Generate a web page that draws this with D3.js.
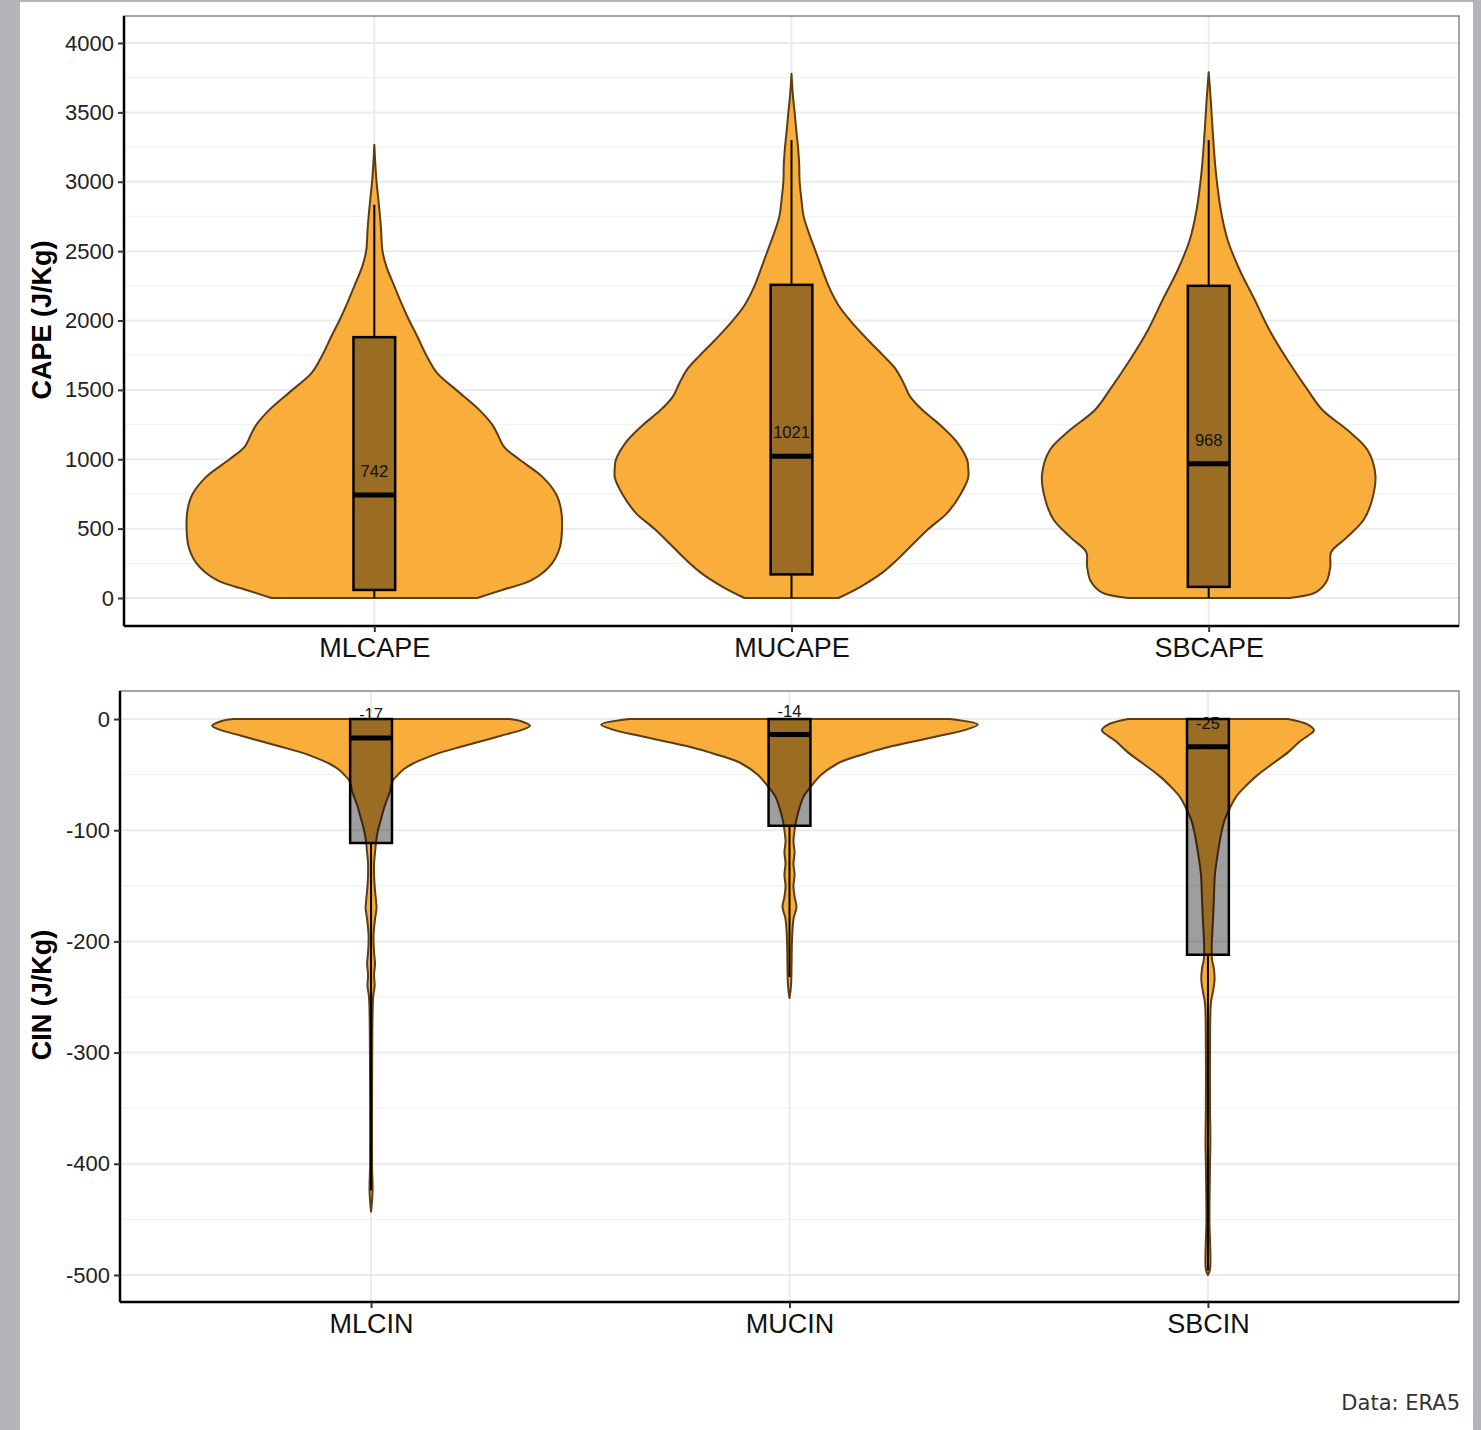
<!DOCTYPE html>
<html><head><meta charset="utf-8">
<script src="https://cdn.jsdelivr.net/npm/d3@7"></script>
<style>body{margin:0;background:#b3b5b8;} svg{display:block}</style>
</head><body><svg id="c" width="1481" height="1430"></svg>
<script>
// ---------------- DATA ----------------
const capeCats = ["MLCAPE", "MUCAPE", "SBCAPE"];
const capeMedian = [742, 1021, 968];
const capeQ1 = [58, 170, 80];
const capeQ3 = [1880, 2257, 2250];
const capeWhiskLo = [0, 0, 0];
const capeWhiskHi = [2834, 3301, 3300];
const capeMajorTicks = [0, 500, 1000, 1500, 2000, 2500, 3000, 3500, 4000];
const capeMinorTicks = [250, 750, 1250, 1750, 2250, 2750, 3250, 3750];
// violin density profiles: [value, relative density]
const densMLCAPE = [[0,0.548],[58,0.681],[130,0.840],[250,0.947],[370,0.989],[500,1.0],[635,0.995],[750,0.968],[875,0.894],[1000,0.771],[1090,0.691],[1188,0.654],[1250,0.628],[1356,0.559],[1500,0.436],[1620,0.335],[1750,0.277],[1885,0.229],[2000,0.186],[2125,0.144],[2250,0.106],[2390,0.064],[2505,0.043],[2654,0.036],[2755,0.030],[2894,0.020],[3000,0.012],[3135,0.005],[3267,0]];
const densMUCAPE = [[0,0.250],[81,0.367],[183,0.484],[284,0.569],[385,0.644],[497,0.729],[614,0.830],[745,0.899],[867,0.941],[943,0.941],[994,0.936],[1120,0.883],[1245,0.793],[1349,0.702],[1450,0.633],[1552,0.596],[1653,0.553],[1747,0.489],[1856,0.410],[1998,0.314],[2110,0.250],[2249,0.197],[2363,0.165],[2500,0.128],[2617,0.096],[2754,0.064],[2870,0.053],[3005,0.043],[3124,0.041],[3258,0.034],[3377,0.025],[3509,0.016],[3631,0.007],[3778,0]];
const densSBCAPE = [[0,0.430],[40,0.570],[120,0.628],[230,0.648],[330,0.652],[430,0.730],[562,0.825],[706,0.870],[886,0.888],[1066,0.846],[1210,0.739],[1355,0.606],[1500,0.527],[1715,0.420],[1930,0.324],[2150,0.245],[2364,0.165],[2580,0.101],[2800,0.064],[3085,0.037],[3373,0.021],[3589,0.011],[3790,0]];

const cinCats = ["MLCIN", "MUCIN", "SBCIN"];
const cinMedian = [-17, -14, -25];
const cinQ1 = [-111.5, -96, -212];
const cinQ3 = [0, 0, 0];
const cinWhiskLo = [-424, -232, -496];
const cinWhiskHi = [0, 0, 0];
const cinMajorTicks = [0, -100, -200, -300, -400, -500];
const cinMinorTicks = [-50, -150, -250, -350, -450];
const densMLCIN = [[0,0.733],[-2,0.797],[-6,0.844],[-10,0.797],[-15,0.690],[-20,0.584],[-25,0.478],[-30,0.372],[-35,0.292],[-40,0.223],[-45,0.175],[-50,0.143],[-55,0.117],[-60,0.106],[-65,0.101],[-70,0.090],[-80,0.069],[-90,0.053],[-100,0.037],[-110,0.027],[-120,0.021],[-130,0.016],[-140,0.016],[-150,0.019],[-165,0.027],[-170,0.029],[-180,0.021],[-195,0.013],[-210,0.016],[-220,0.021],[-230,0.016],[-240,0.019],[-250,0.011],[-300,0.006],[-350,0.005],[-400,0.005],[-425,0.008],[-443,0]];
const densMUCIN = [[0,0.850],[-5,1.0],[-10,0.929],[-15,0.797],[-20,0.664],[-25,0.531],[-30,0.425],[-35,0.329],[-40,0.255],[-50,0.170],[-60,0.117],[-70,0.074],[-80,0.053],[-90,0.037],[-100,0.027],[-110,0.021],[-120,0.027],[-130,0.021],[-140,0.027],[-150,0.021],[-160,0.027],[-169,0.037],[-180,0.021],[-200,0.013],[-220,0.011],[-240,0.008],[-251,0]];
const densSBCIN = [[0,0.425],[-5,0.531],[-10,0.563],[-15,0.531],[-20,0.489],[-30,0.425],[-40,0.345],[-50,0.266],[-60,0.202],[-70,0.149],[-80,0.117],[-90,0.090],[-100,0.074],[-120,0.053],[-140,0.037],[-160,0.032],[-180,0.027],[-200,0.021],[-215,0.021],[-225,0.032],[-235,0.035],[-245,0.027],[-255,0.016],[-300,0.011],[-350,0.011],[-380,0.013],[-400,0.011],[-450,0.008],[-495,0.011],[-500,0]];

// ---------------- DRAW ----------------
const svg = d3.select("#c");
svg.append("rect").attr("x", 20).attr("y", 2).attr("width", 1453).attr("height", 1428).attr("fill", "#fff");
const FONT = "Liberation Sans, Arial, sans-serif";

function panel(cfg) {
  const {L, R, T, B, domain, cats, major, minor, dens, med, q1, q3, wlo, whi, title, titleY} = cfg;
  const g = svg.append("g");
  const y = d3.scaleLinear().domain(domain).range([B, T]);
  const x = d3.scalePoint().domain(cats).range([L, R]).padding(0.6);
  const step = x.step();
  const w = d3.scaleLinear().domain([0, 1]).range([0, 0.45 * step]);
  // gridlines
  g.selectAll(".minor").data(minor).join("line")
    .attr("x1", L).attr("x2", R).attr("y1", d => y(d)).attr("y2", d => y(d))
    .attr("stroke", "#f2f2f2").attr("stroke-width", 1.2);
  g.selectAll(".major").data(major).join("line")
    .attr("x1", L).attr("x2", R).attr("y1", d => y(d)).attr("y2", d => y(d))
    .attr("stroke", "#ebebeb").attr("stroke-width", 2);
  g.selectAll(".vmajor").data(cats).join("line")
    .attr("x1", d => x(d)).attr("x2", d => x(d)).attr("y1", T).attr("y2", B)
    .attr("stroke", "#ebebeb").attr("stroke-width", 2);
  // violins
  cats.forEach((c, i) => {
    const cx = x(c);
    const area = d3.area().curve(d3.curveCatmullRom.alpha(0.5))
      .y(d => y(d[0])).x0(d => cx - w(d[1])).x1(d => cx + w(d[1]));
    g.append("path").attr("d", area(dens[i]))
      .attr("fill", "#F9AE3B").attr("stroke", "#5e3c12").attr("stroke-width", 2)
      .attr("stroke-linejoin", "round");
  });
  // boxes
  cats.forEach((c, i) => {
    const cx = x(c), bw = 0.1 * step;
    g.append("line").attr("x1", cx).attr("x2", cx).attr("y1", y(whi[i])).attr("y2", y(q3[i]))
      .attr("stroke", "#000").attr("stroke-width", 2);
    g.append("line").attr("x1", cx).attr("x2", cx).attr("y1", y(q1[i])).attr("y2", y(wlo[i]))
      .attr("stroke", "#000").attr("stroke-width", 2);
    g.append("rect").attr("x", cx - bw / 2).attr("width", bw)
      .attr("y", y(q3[i])).attr("height", y(q1[i]) - y(q3[i]))
      .attr("fill", "#000").attr("fill-opacity", 0.38)
      .attr("stroke", "#000").attr("stroke-width", 2.5);
    g.append("line").attr("x1", cx - bw / 2).attr("x2", cx + bw / 2)
      .attr("y1", y(med[i])).attr("y2", y(med[i]))
      .attr("stroke", "#000").attr("stroke-width", 5);
    g.append("text").attr("x", cx).attr("y", y(med[i]) - 24)
      .attr("dominant-baseline", "central").attr("text-anchor", "middle")
      .attr("font-family", FONT).attr("font-size", 16.5)
      .attr("fill", "#111").text(med[i]);
  });
  // border
  g.append("rect").attr("x", L).attr("y", T).attr("width", R - L).attr("height", B - T)
    .attr("fill", "none").attr("stroke", "#888").attr("stroke-width", 1.5);
  // axes
  const ya = g.append("g").attr("transform", `translate(${L},0)`)
    .call(d3.axisLeft(y).tickValues(major).tickFormat(d => String(d))
      .tickSize(6).tickPadding(4).tickSizeOuter(0));
  ya.select(".domain").attr("stroke", "#000").attr("stroke-width", 2.5).attr("d", `M0,${T}V${B}`);
  ya.selectAll(".tick line").attr("stroke", "#333").attr("stroke-width", 2);
  ya.selectAll(".tick text").attr("font-family", FONT)
    .attr("font-size", 22).attr("fill", "#222");
  const xa = g.append("g").attr("transform", `translate(0,${B})`)
    .call(d3.axisBottom(x).tickSize(6).tickPadding(6).tickSizeOuter(0));
  xa.select(".domain").attr("stroke", "#000").attr("stroke-width", 2.5).attr("d", `M${L},0H${R}`);
  xa.selectAll(".tick line").attr("stroke", "#333").attr("stroke-width", 2);
  xa.selectAll(".tick text").attr("font-family", FONT)
    .attr("font-size", 27).attr("fill", "#111");
  g.append("text").attr("transform", `translate(42,${titleY}) rotate(-90)`)
    .attr("text-anchor", "middle").attr("dominant-baseline", "central")
    .attr("font-family", FONT).attr("font-weight", "bold")
    .attr("font-size", 27).attr("fill", "#000").text(title);
}

panel({L: 124, R: 1459, T: 16, B: 626, domain: [-201.8, 4194.6], cats: capeCats,
  major: capeMajorTicks, minor: capeMinorTicks, dens: [densMLCAPE, densMUCAPE, densSBCAPE],
  med: capeMedian, q1: capeQ1, q3: capeQ3, wlo: capeWhiskLo, whi: capeWhiskHi,
  title: "CAPE (J/Kg)", titleY: 320});
panel({L: 120, R: 1459, T: 691, B: 1302, domain: [-524.3, 25.2], cats: cinCats,
  major: cinMajorTicks, minor: cinMinorTicks, dens: [densMLCIN, densMUCIN, densSBCIN],
  med: cinMedian, q1: cinQ1, q3: cinQ3, wlo: cinWhiskLo, whi: cinWhiskHi,
  title: "CIN (J/Kg)", titleY: 995});

svg.append("text").attr("x", 1460).attr("y", 1410).attr("text-anchor", "end")
  .attr("font-family", "DejaVu Sans, sans-serif").attr("font-size", 21).attr("fill", "#333")
  .text("Data: ERA5");
</script></body></html>
